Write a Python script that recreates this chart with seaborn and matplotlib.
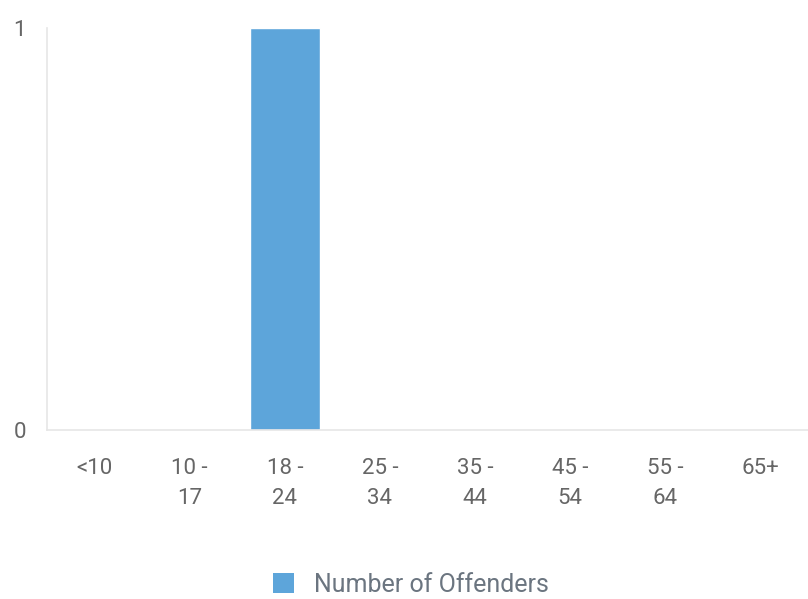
import matplotlib
matplotlib.use("Agg")
import matplotlib.pyplot as plt
import seaborn as sns
import pandas as pd
from matplotlib.patches import Patch

# data
age_groups = ["<10", "10 -\n17", "18 -\n24", "25 -\n34", "35 -\n44", "45 -\n54", "55 -\n64", "65+"]
offenders = [0, 0, 1, 0, 0, 0, 0, 0]
series_name = "Number of Offenders"

df = pd.DataFrame({"age": age_groups, "count": offenders})

sns.set_style("white")
plt.rcParams["font.family"] = ["Roboto", "DejaVu Sans"]

fig = plt.figure(figsize=(8.08, 5.99), dpi=100)
ax = fig.add_axes([47 / 808, 1 - 430 / 599, 1 - 47 / 808, (430 - 28) / 599])

sns.barplot(data=df, x="age", y="count", color="#5DA5DA", width=0.73,
            saturation=1, ax=ax)

ax.set_ylim(0, 1)
ax.set_yticks([0, 1])
ax.set_xlabel("")
ax.set_ylabel("")
ax.tick_params(axis="y", length=0, pad=15, labelsize=16, labelcolor="#666666")
ax.tick_params(axis="x", length=0, pad=20, labelsize=16, labelcolor="#666666")
for lbl in ax.get_xticklabels():
    lbl.set_linespacing(1.6)
    lbl.set_verticalalignment("top")

for side in ["top", "right"]:
    ax.spines[side].set_visible(False)
ax.spines["left"].set_color("#e6e6e6")
ax.spines["bottom"].set_color("#e6e6e6")
ax.spines["left"].set_linewidth(1.2)
ax.spines["bottom"].set_linewidth(1.2)

handle = Patch(facecolor="#5DA5DA", edgecolor="none", label=series_name)
fig.legend(handles=[handle], loc="center", bbox_to_anchor=(0.508, 1 - 585 / 599),
           frameon=False, fontsize=18, handlelength=0.84, handleheight=0.84,
           handletextpad=0.8, labelcolor="#6b7580")

fig.savefig("out.png", dpi=100)
